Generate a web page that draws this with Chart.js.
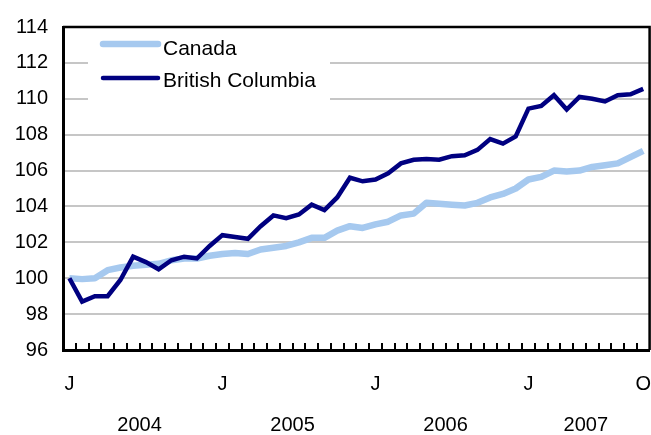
<!DOCTYPE html>
<html>
<head>
<meta charset="utf-8">
<script src="https://cdn.jsdelivr.net/npm/chart.js@4.4.1/dist/chart.umd.min.js"></script>
<style>
  html, body { margin: 0; padding: 0; background: #fff; }
  #wrap { width: 651px; height: 435px; }
</style>
</head>
<body>
<div id="wrap"><canvas id="chart" width="651" height="435"></canvas></div>
<script>
// Jan 2004 .. Oct 2007, monthly
const months = [
  'J','F','M','A','M','J','J','A','S','O','N','D',
  'J','F','M','A','M','J','J','A','S','O','N','D',
  'J','F','M','A','M','J','J','A','S','O','N','D',
  'J','F','M','A','M','J','J','A','S','O'
];
const canada = [
  100.0, 99.95, 100.0, 100.45, 100.6, 100.7, 100.75, 100.8, 101.0, 101.1, 101.1, 101.25,
  101.35, 101.4, 101.35, 101.6, 101.7, 101.8, 102.0, 102.25, 102.25, 102.65, 102.9, 102.8,
  103.0, 103.15, 103.5, 103.6, 104.2, 104.15, 104.1, 104.05, 104.2, 104.5, 104.7, 105.0,
  105.5, 105.65, 106.0, 105.95, 106.0, 106.2, 106.3, 106.4, 106.75, 107.1
];
const britishColumbia = [
  100.0, 98.7, 99.0, 99.0, 99.9, 101.2, 100.9, 100.5, 101.0, 101.2, 101.1, 101.8,
  102.4, 102.3, 102.2, 102.9, 103.5, 103.35, 103.55, 104.1, 103.8, 104.5, 105.6, 105.4,
  105.5, 105.85, 106.4, 106.6, 106.65, 106.6, 106.8, 106.85, 107.15, 107.75, 107.5, 107.9,
  109.45, 109.6, 110.2, 109.4, 110.1, 110.0, 109.85, 110.2, 110.25, 110.55
];
const years = ['2004', '2005', '2006', '2007'];
const yTicks = [96, 98, 100, 102, 104, 106, 108, 110, 112, 114];

const FONT = 'Liberation Sans, Arial, Helvetica, sans-serif';

// only January and the last month get a letter under the axis
function monthLabel(i) {
  return (i % 12 === 0 || i === months.length - 1) ? months[i] : '';
}

// middle of each year's run of months, in category units
const yearCentres = years.map((y, k) => {
  const first = k * 12;
  const last = Math.min(first + 11, months.length - 1);
  return (first + last) / 2;
});

const framePlugin = {
  id: 'frame',
  beforeDatasetsDraw(chart) {
    const ctx = chart.ctx;
    // legend sits on a white box inside the plot
    ctx.save();
    ctx.fillStyle = '#fff';
    ctx.fillRect(88, 22, 242, 78);
    const rows = [
      { ds: chart.data.datasets[0], y: 44, base: 55 },
      { ds: chart.data.datasets[1], y: 78, base: 87 }
    ];
    rows.forEach(r => {
      ctx.strokeStyle = r.ds.borderColor;
      ctx.lineWidth = r.ds.borderWidth;
      ctx.lineCap = 'round';
      ctx.beginPath();
      ctx.moveTo(103, r.y);
      ctx.lineTo(158, r.y);
      ctx.stroke();
      ctx.fillStyle = '#000';
      ctx.font = '21px ' + FONT;
      ctx.textBaseline = 'alphabetic';
      ctx.fillText(r.ds.label, 163, r.base);
    });
    ctx.restore();
  },
  afterDatasetsDraw(chart) {
    const { ctx, chartArea: a, scales: { x } } = chart;
    ctx.save();
    ctx.strokeStyle = '#000';
    // month tick marks pointing up into the plot
    ctx.lineWidth = 2;
    ctx.beginPath();
    for (let k = 1; k < months.length; k++) {
      const px = Math.round(x.getPixelForValue(k - 0.5));
      ctx.moveTo(px, a.bottom);
      ctx.lineTo(px, a.bottom - 7);
    }
    ctx.stroke();
    // top and right edges of the frame
    ctx.lineWidth = 2.5;
    ctx.beginPath();
    ctx.moveTo(a.left, a.top);
    ctx.lineTo(a.right, a.top);
    ctx.lineTo(a.right, a.bottom);
    ctx.stroke();
    ctx.restore();
  }
};

new Chart(document.getElementById('chart'), {
  type: 'line',
  data: {
    labels: months,
    datasets: [
      {
        label: 'Canada',
        data: canada,
        borderColor: '#a6c9ef',
        borderWidth: 6.5,
        borderJoinStyle: 'round',
        pointRadius: 0,
        tension: 0,
        order: 1
      },
      {
        label: 'British Columbia',
        data: britishColumbia,
        borderColor: '#000080',
        borderWidth: 4.5,
        pointRadius: 0,
        tension: 0,
        order: 0
      }
    ]
  },
  options: {
    responsive: false,
    animation: false,
    devicePixelRatio: 1,
    layout: { padding: { top: 20, right: 0, left: 0, bottom: 0 } },
    plugins: {
      legend: { display: false },
      tooltip: { enabled: false }
    },
    scales: {
      x: {
        type: 'category',
        offset: true,
        weight: 0,
        afterFit: s => { s.height = 50; },
        // tick marks are hidden; tickLength only pushes the labels down
        grid: { display: false, drawTicks: true, tickLength: 22 },
        border: { display: true, color: '#000', width: 3 },
        ticks: {
          autoSkip: false,
          maxRotation: 0,
          color: '#000',
          padding: 0,
          font: { family: FONT, size: 20 },
          callback: (v, i) => monthLabel(i)
        }
      },
      x2: {
        type: 'linear',
        position: 'bottom',
        weight: 1,
        min: -0.5,
        max: months.length - 0.5,
        afterBuildTicks: s => { s.ticks = yearCentres.map(v => ({ value: v })); },
        afterFit: s => { s.height = 35; },
        grid: { display: false, drawTicks: true, tickLength: 13 },
        border: { display: false },
        ticks: {
          autoSkip: false,
          maxRotation: 0,
          color: '#000',
          padding: 0,
          font: { family: FONT, size: 20 },
          callback: v => years[yearCentres.indexOf(v)] || ''
        }
      },
      y: {
        min: 96,
        max: 114,
        afterBuildTicks: s => { s.ticks = yTicks.map(v => ({ value: v })); },
        afterFit: s => { s.width = 63; },
        grid: { color: '#c6c6c6', lineWidth: 2, drawTicks: false },
        border: { display: true, color: '#000', width: 3 },
        ticks: {
          color: '#000',
          padding: 15,
          font: { family: FONT, size: 20 }
        }
      }
    }
  },
  plugins: [framePlugin]
});
</script>
</body>
</html>
